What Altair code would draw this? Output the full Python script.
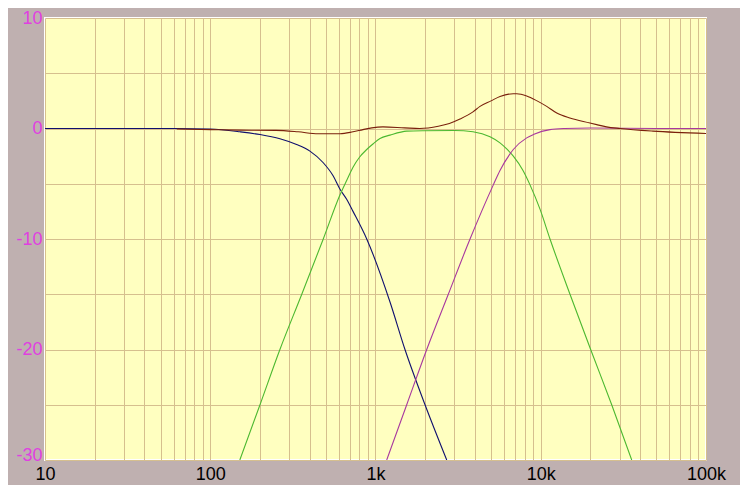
import altair as alt
import pandas as pd

# Woofer (low-pass) response
woofer_f = [10, 62.7, 100, 151, 200, 264, 333, 401, 483, 555, 610, 669, 731, 885, 1224, 1508, 1994, 2698]
woofer_db = [0, 0, -0.05, -0.3, -0.55, -0.93, -1.45, -2.05, -3.1, -4.3, -5.5, -6.4, -7.5, -10, -15.7, -20, -25, -30]

# Midrange (band-pass) response
mid_f = [151, 200, 264, 358, 483, 610, 669, 731, 800, 885, 966, 1065, 1224, 1545, 1939, 3000, 3890, 4931, 5667, 6223, 6823, 7809, 8610, 9897, 11376, 15030, 20045, 26875, 35520]
mid_db = [-30, -25, -20, -15, -10, -6.0, -4.7, -3.5, -2.6, -1.9, -1.4, -0.9, -0.6, -0.24, -0.2, -0.18, -0.3, -0.75, -1.3, -1.85, -2.5, -3.8, -5.1, -7.3, -10, -15, -20, -25, -30]

# Tweeter (high-pass) response
tw_f = [1169, 1545, 2042, 2758, 3733, 5164, 5667, 6517, 6823, 8222, 9016, 11376, 14000, 20000, 50000, 100000]
tw_db = [-30, -25, -20, -15, -10, -5.1, -3.8, -2.3, -1.9, -0.85, -0.55, -0.1, 0, 0.05, 0, 0]

# Summed response
sum_f = [62.7, 100, 150, 250, 340, 450, 610, 731, 840, 950, 1110, 1500, 1850, 2400, 2800, 3245, 3890, 4289, 5000, 5667, 6823, 7153, 8222, 9500, 10866, 12500, 15000, 19860, 21810, 25000, 30170, 47780, 100000]
sum_db = [-0.05, -0.1, -0.15, -0.17, -0.3, -0.48, -0.48, -0.3, -0.1, 0.06, 0.15, 0.06, 0, 0.2, 0.45, 0.85, 1.5, 2.0, 2.5, 2.9, 3.15, 3.15, 2.95, 2.5, 2.0, 1.4, 0.95, 0.5, 0.35, 0.15, 0.0, -0.24, -0.45]

series = [
    ("woofer", woofer_f, woofer_db, "#10106e"),
    ("mid", mid_f, mid_db, "#4cb830"),
    ("tweeter", tw_f, tw_db, "#a8389e"),
    ("sum", sum_f, sum_db, "#7a200c"),
]

x_grid = [m * 10 ** e for e in range(1, 5) for m in range(1, 10)] + [100000]
y_grid = [-30, -25, -20, -15, -10, -5, 0, 5, 10]

x_label_expr = ("datum.value == 10 ? '10' : datum.value == 100 ? '100' : "
                "datum.value == 1000 ? '1k' : datum.value == 10000 ? '10k' : "
                "datum.value == 100000 ? '100k' : ''")

x_enc = alt.X(
    "f:Q",
    scale=alt.Scale(type="log", domain=[10, 100000], nice=False),
    axis=alt.Axis(
        values=x_grid, labelExpr=x_label_expr, title=None, ticks=False, tickSize=0,
        domain=False, grid=True, gridColor="#d6bf8e", gridWidth=1, gridOpacity=1,
        labelFont="Liberation Sans", labelFontSize=18, labelColor="#000000",
        labelPadding=5, labelOverlap=False, labelFlush=False,
    ),
)
y_enc = alt.Y(
    "db:Q",
    scale=alt.Scale(domain=[-30, 10], nice=False, zero=False),
    axis=alt.Axis(
        values=y_grid,
        labelExpr="datum.value % 10 == 0 ? '' + datum.value : ''",
        title=None, ticks=False, tickSize=0, domain=False, grid=True,
        gridColor="#d6bf8e", gridWidth=1, gridOpacity=1,
        labelFont="Liberation Sans", labelFontSize=18, labelColor="#e040e0",
        labelPadding=3, labelOverlap=False, labelFlush=False,
        labelBaseline={"condition": {"test": "datum.value == -30", "value": "alphabetic"}, "value": "middle"},
    ),
)

layers = []
for name, fs, dbs, col in series:
    df = pd.DataFrame({"f": fs, "db": dbs})
    layers.append(
        alt.Chart(df).mark_line(color=col, strokeWidth=1.1, clip=True, interpolate="monotone").encode(x=x_enc, y=y_enc)
    )

chart = alt.layer(*layers).properties(
    width=661,
    height=442,
    autosize=alt.AutoSizeParams(type="none"),
    padding={"left": 37, "top": 10, "right": 34, "bottom": 25},
    background="#bfb0b0",
).configure_view(
    fill="#ffffc0", stroke="#ffffff", strokeWidth=2
)

chart.save("out.html", embed_options={"renderer": "svg", "actions": False})
